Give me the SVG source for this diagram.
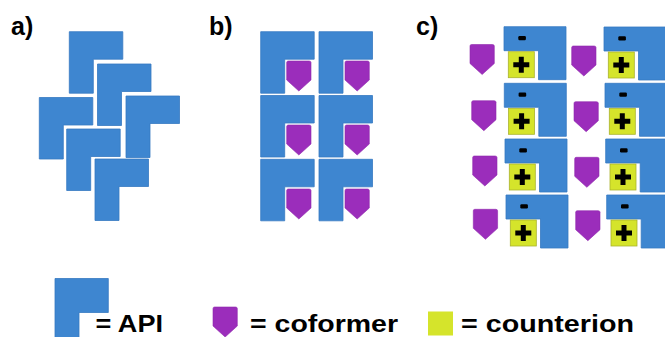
<svg xmlns="http://www.w3.org/2000/svg" xmlns:xlink="http://www.w3.org/1999/xlink" width="665" height="337" viewBox="0 0 665 337">
<style>
.api{fill:#3e86d0;stroke:#3679c2;stroke-width:0.8}
.cof{fill:#9b2dbb;stroke:#8e28ad;stroke-width:0.6}
.ci{fill:#d5e42b;stroke:#aab32e;stroke-width:0.8}
.sign{fill:#000}
.lbl{font-family:"Liberation Sans",Arial,sans-serif;font-weight:bold;font-size:25px;fill:#000}
.leg{font-family:"Liberation Sans",Arial,sans-serif;font-weight:bold;font-size:24px;fill:#000}
</style>
<defs>
<path id="apiL" class="api" d="M0,0 H53.5 V27.5 H24 V61.5 H0 Z"/>
<path id="apiC" class="api" d="M0,0 H62 V53 H34.5 V24 H0 Z"/>
<path id="cofP" class="cof" d="M1.5,0 H22.5 Q24.3,0 24.3,1.5 V19 L12.15,30 L0,19 V1.5 Q0,0 1.5,0 Z"/>
<g id="ion">
<rect class="ci" x="0" y="0" width="26" height="26"/>
<path class="sign" d="M10.5,5 H15.5 V10.5 H21 V15.5 H15.5 V21 H10.5 V15.5 H5 V10.5 H10.5 Z"/>
</g>
<g id="unitC">
<use xlink:href="#apiC"/>
<rect class="sign" x="14.3" y="9.3" width="7.6" height="4.2" rx="1.2"/>
<use xlink:href="#ion" x="4.3" y="25"/>
</g>
</defs>

<text class="lbl" x="11" y="35">a)</text>
<text class="lbl" x="209" y="35">b)</text>
<text class="lbl" x="416" y="35">c)</text>

<g id="panel-a">
<use id="a1" xlink:href="#apiL" x="69.3" y="31.7"/>
<use id="a2" xlink:href="#apiL" x="97.5" y="64"/>
<use id="a3" xlink:href="#apiL" x="39.3" y="97.5"/>
<use id="a4" xlink:href="#apiL" x="126" y="96"/>
<use id="a5" xlink:href="#apiL" x="66.7" y="129"/>
<use id="a6" xlink:href="#apiL" x="95" y="159"/>
</g>

<g id="panel-b">
<g id="b1"><use xlink:href="#apiL" x="260.7" y="31.7"/><use xlink:href="#cofP" x="286.7" y="61"/></g>
<g id="b2"><use xlink:href="#apiL" x="319" y="31.7"/><use xlink:href="#cofP" x="345" y="61"/></g>
<g id="b3"><use xlink:href="#apiL" x="260.7" y="95.5"/><use xlink:href="#cofP" x="286.7" y="125"/></g>
<g id="b4"><use xlink:href="#apiL" x="319" y="95.5"/><use xlink:href="#cofP" x="345" y="125"/></g>
<g id="b5"><use xlink:href="#apiL" x="260.7" y="159.3"/><use xlink:href="#cofP" x="286.7" y="189"/></g>
<g id="b6"><use xlink:href="#apiL" x="319" y="159.3"/><use xlink:href="#cofP" x="345" y="189"/></g>
</g>

<g id="panel-c">
<g id="c1"><use xlink:href="#cofP" x="470" y="44.5"/><use xlink:href="#unitC" x="504" y="26.7"/></g>
<g id="c2"><use xlink:href="#cofP" x="571.7" y="46"/><use xlink:href="#unitC" x="604" y="27"/></g>
<g id="c3"><use xlink:href="#cofP" x="471.7" y="100.7"/><use xlink:href="#unitC" x="504.3" y="83.3"/></g>
<g id="c4"><use xlink:href="#cofP" x="574" y="101.7"/><use xlink:href="#unitC" x="605" y="83.3"/></g>
<g id="c5"><use xlink:href="#cofP" x="472.7" y="156"/><use xlink:href="#unitC" x="505" y="139"/></g>
<g id="c6"><use xlink:href="#cofP" x="574.7" y="157.3"/><use xlink:href="#unitC" x="605.7" y="139"/></g>
<g id="c7"><use xlink:href="#cofP" x="473.3" y="209.3"/><use xlink:href="#unitC" x="506" y="195"/></g>
<g id="c8"><use xlink:href="#cofP" x="575.7" y="210.7"/><use xlink:href="#unitC" x="606.7" y="195"/></g>
</g>

<g id="legend">
<g id="leg-api">
<path class="api" d="M55,278.5 H108.3 V312.5 H79 V340 H55 Z"/>
<text class="leg" x="95.5" y="331.5" textLength="67.5" lengthAdjust="spacingAndGlyphs">= API</text>
</g>
<g id="leg-cof">
<use xlink:href="#cofP" x="213" y="307"/>
<text class="leg" x="250" y="331.5" textLength="148" lengthAdjust="spacingAndGlyphs">= coformer</text>
</g>
<g id="leg-ion">
<rect class="ci" x="428" y="311.5" width="25" height="24" style="stroke:none"/>
<text class="leg" x="461" y="331.5" textLength="173" lengthAdjust="spacingAndGlyphs">= counterion</text>
</g>
</g>
</svg>
